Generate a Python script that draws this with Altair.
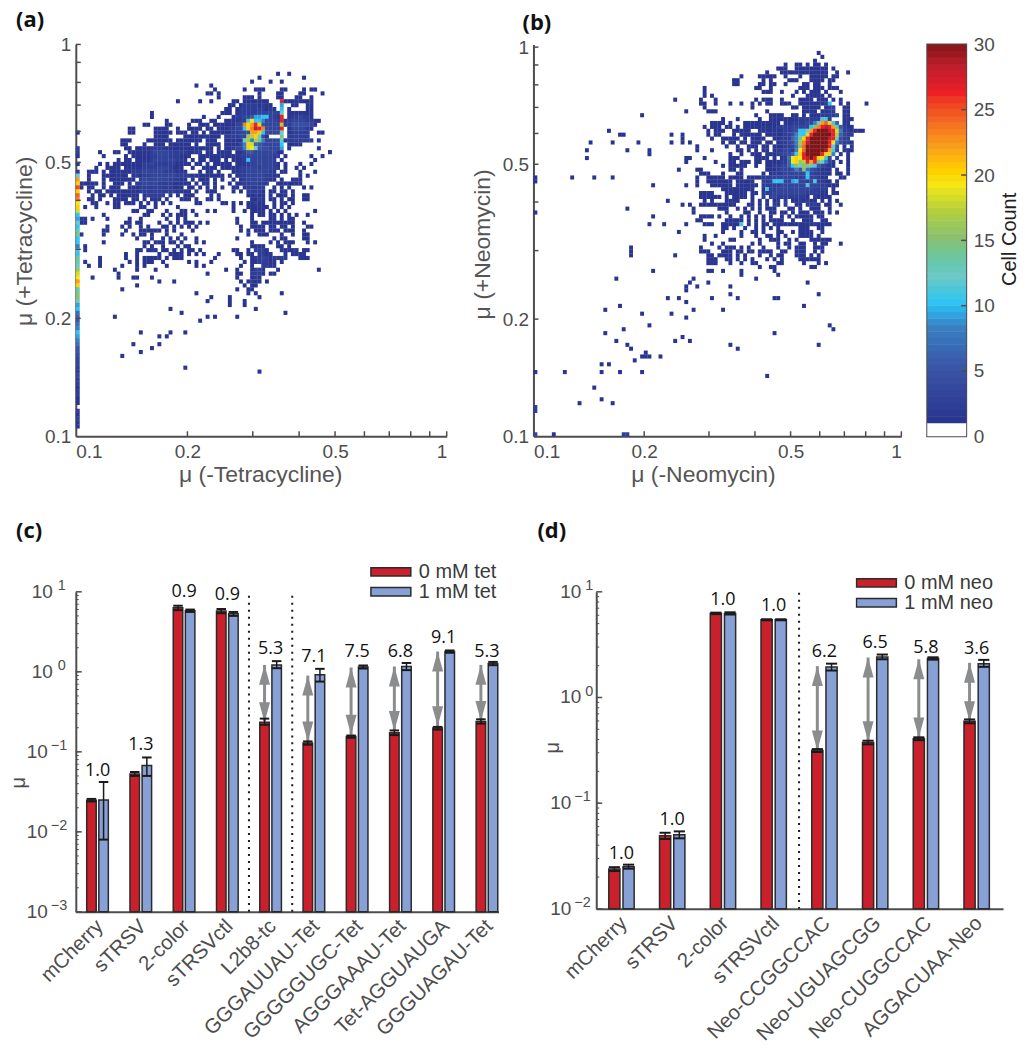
import json
import altair as alt
import pandas as pd

# ---------- heat-map cells: (row from the top, first column, counts in base 36) ----------
A_ROWS = [
(7,50,"....1..1"),(8,40,".........1 .......... .1"),(9,40,".......1.. ..1..1"),(10,30,"..1...1"),
(11,30,".......1.. .....1..11 1....11... .1.11"),(12,30,".....11.1. .........1 ....11.... 11....1"),
(13,30,"........1. .....111.1 ....11...1 1..1"),(14,20,".......1.. ...1..1... ..11.11111 11...q1111 1111"),
(15,40,".11.122221 211..9..11 ..11"),(16,40,"11.1222222 2121.a.1.. ..11"),
(17,20,"1......... .........1 11.1222223 33332c.111 1111"),(18,20,"1......... ....1...1. ..12233599 aa321q.122 3221"),
(19,20,"....1..... .111..11.. 111122bjaa 83332q1233 332211"),(20,10,"........11 ....11.... 1..111.111 11133nkmqk 53333h2244 44431"),
(21,10,"....11.... .1111..1.. 1111.11.11 12233aknsq n4333q.133 3321"),(22,10,"....11.... .11111.111 .11.1.1111 1122334mmk a4333c.122 222..11"),
(23,20,".1111....1 111111111. 222233ghkc 41...e.222 222"),(24,10,"..111....1 111111.111 1111.111.. 11111cg8he 83333c1222 2222.1"),
(25,10,"..11....1. .111.11111 1.1..1111. 111138ki65 43333a.111 1"),(26,10,"...11.1111 2222111111 1111111.1. 112338ijc5 443339.1.. .....1.."),
(27,0,"......1... 11..111111 2333322222 1112.11.11 11.1125533 333311.... ........1"),(28,0,".......1.. ...1.11111 2233322211 1..1111111 1111223333 33322.1... ...1..1"),
(29,10,".1.11.1111 2333333221 .1.11.111. 1.1112a333 3332.1.... ....1"),(30,0,"......1.1. 1111111122 3222222111 1.11.1.111 11.1112333 33321.1... 1..1"),
(31,0,".....1..11 11.1111122 223332111. .1..1111.1 1111223332 33321.1..1 .1"),(32,0,"...111.1.1 1111122233 3333222111 ...1.11.1. ..11223333 3321.11... 1...1"),
(33,0,"...1...111 1111.12122 3333333222 2111111111 .1.1223333 32211..... 1.1"),(34,0,"...1...1.1 111111.233 3333322211 .1.111.1.1 ..1.123333 3211.1..11 1"),
(35,0,".11111.1.. 111.1.2233 3322221111 1.1.11.1.. .1.1122332 22..111111 1"),(36,0,".1.11..1.1 11..111222 222222111. 11.1.1.1.1 ..11.12222 2..1.1.1.. .1.1"),
(37,0,"...1.11.11 1111111222 2222222111 1.1..111.. ..1.1.2222 1.11.11.1."),(38,0,"....1.11.1 .111111.12 2222.1.1.1 11....1.1. ......1121 1.1.111.1. .11"),
(39,0,"...11.1... 1111.11.1. 111.1...11 1.1..11.1. .......112 1.11.1.11. .11"),(40,0,"....11..1. 11.111.1.1 .1.1.1.... ..11.....1 1.1.1.1121 1..1.11.1."),
(41,0,"..1..1.... 11.....11. .1.....1.. .......... ..1...1111 11.1.1.1"),(42,10,".....11..1 1...1...11 .1...1.1.. ..1..1.111 1.1.1.1... ....1"),
(43,0,".......1.. ........11 ...1.1.111 ..1....... .......1.1 1.11.1.1.1 ..1"),(44,0,".11.1...1. ....1..1.. ....1..1.1 .......... ...1...1.. ..11.1.11"),
(45,0,".11....... ...11.11.. ..1..1.1.1 11.1.1.... ...1...11. 111111111. .1"),(46,0,"........1. ..1.1..1.1 ...11.1.1. 1.1....... ....1..111 1.11.11.1. ..11"),
(47,0,".......11. ...1...111 111.1.1... .1........ ....1.1.11 1.111.111. .1"),(48,0,".1.....1.. ..1..1.11. 1...1...1. .......... ......1..1 11...1..1. .11"),
(49,10,"......1... 1..1.1.1.1 ..1....... ...1...... ...1.11... .11"),(50,0,".......1.. ........11 .111.11.1. ..1.1..... .......1.. ..1.1.111. ..1.1"),
(51,0,"..1....... ........1. 1..1...1.1 1......... .......111 1...11.1"),(52,0,"..1....... ......11.1 11.11.1.1. 11.1...... ..11..1.22 21...11111 .11"),
(53,10,"...1..1... ..1..1111. 1.1.1...1. ...11.11.2 211...1.11 11"),(54,0,"......1... ...1..1.11 111.1.111. .......1.. ....1..122 3212222... 111"),
(55,0,"..1...1... ....1.1.11 1..1...... 1.1...1... .....1.112 2211.1"),(56,0,"...1..1... ..1...1.1. ....1..... ..1.1..... ....1..1.. 2211"),
(57,10,"1.....1... .1........ .......... 1..1...122 1...1..... .....1"),(58,10,".1........ .......... .....1.... ...11..222 1.11"),
(59,0,"....1..... .1...11... 1......... .......... ...1...121"),(60,20,"..1...1... .......... ....1.1211 .1"),
(61,10,"......1... .......... .......... .....1.11"),(62,10,"..1....... .......... .......... ...1..11"),
(63,30,"..1....... ......1.1. .....1"),(64,30,"......1... .1.......1"),(65,30,".....1.... .1...1"),(66,40,".1...1"),
(67,20,".....1.... .......... ........1"),(68,20,"........1. .......... .......... ......1"),(69,10,"1......... .......... .....1.1.. ...1"),
(70,30,"...1"),(73,10,".......1.. .....1...1"),(74,20,"..1.1"),(76,10,".....1.... ..1"),(77,20,"1"),(78,10,".......1"),(79,10,"..1"),
(82,20,".........1"),(83,40,".........1"),
]
# column at the very left edge of panel (a), from row 22 downwards
A_EDGE = [1,0,0,0,2,2,1,0,1,0,2,12,22,20,25,20,24,23,19,20,18,10,9,12,10,13,14,10,10,8,11,10,14,13,12,16,18,19,22,20,13,14,15,12,9,10,7,6,5,7,8,10,9,8,7,5,5,4,3,3,2,2,3,2,2,1,2,2,1,1,0,2,1,2,1,1,0,0]

B_ROWS = [
(1,70,".......1"),(2,70,"........1"),(3,70,"......1"),(4,60,"........1. .11.1.11.1"),(5,60,"......111. .111111111 .1"),
(6,60,"...1...111 1111111111 ..1..1"),(7,50,"......1... .11111..1. ..1..11111 .11"),(8,50,"....11.... ..1.1....1 11...1111. 11"),
(9,50,"....11.... .11.11..1. ...11.11.. 1"),(10,40,"......1... .......... 11..1..... ..111.111. 111"),(11,40,"......1... .......... ..111..1.. .1.1.111.1 ...1"),
(12,40,"......1.1. .......... .......... 1...11111. 1"),(13,30,"........1. .....1...1 .......... 1.111..1.. ..1111.111 .1.1"),
(14,40,".....11..1 ...1..1..1 .1.11..111 ..11111112 a..1.1.... 1"),(15,40,"......1... .........1 .......... 11.11111.1 22..11"),
(16,40,".1.....111 .......... ...1...... ...1111.11 22..11"),(17,20,".........1 .......... .......... .......... 1...1111.. 11.1.11122 223.11"),
(18,50,".1...1.... .1..111111 11222222bb 2...111"),(19,40,"........11 11.1...111 1111111.11 2222338cmo ib6.11"),
(20,40,"......1.11 1.11.1.111 1111112222 33333afnqs qmd5211"),(21,20,"1"),(21,40,".......1.1 11..11111. .111111122 34aacmquuu sqi8221111"),
(22,20,"...11"),(22,30,".......1.. 1......1.1 1...1.1111 11.1111122 48baiquuuu uqh6322"),(23,40,"1.......1. .11111.1.1 111..11222 68ekquuuuu sqc422"),
(24,10,".....1.... .1......1. .......1.. 1.1....... .1.11.11.1 11.11.1223 48gnsuuuuu qj84221"),(25,40,"....1..... ..1..1..11 1.11.11122 37fouuuuuu qc4.1.1"),
(26,10,"....1..... .....1.... .1........ ....1...1. .....11.1. 1.11.12233 28jouuuuut mb3.111"),(27,30,".1........ .......... ...1..1..1 11.1112334 6bkquuuuqk i8.1.1"),
(28,10,"....1....."),(28,40,".11...1... ...111.... 1111.1.127 jkjqsurkjb 3.2..1"),(29,40,".1.......1 ...11.111. 11.1111226 jkghqmqec8 31.1.1"),
(30,50,".1.11111.. 1..1122336 afcfedb532 11...1"),(31,30,".........1 ....11.... ...11.1... ...1112333 485f743211 1.1..1"),
(32,40,".....111.. .1...11... ..1.122233 3333a32211 1.11.1"),(33,0,"1......... 1.....1... .1........ .......... ....1..111 11.1111.11 1122233333 3223a33211 ...11"),
(34,0,"1"),(34,40,"....1..111 1111.11111 ..223aaa33 9a3323b221 1.1"),(35,30,"..1....... .1..1...11 1111.11111 1.22222333 3333b33322 111"),
(36,50,".111111111 ..1b223333 3333332222 .1"),(37,40,".....1111. ..111111.1 1.22233333 3333222211 .11"),(38,40,".....11111 1.1.1111.1 ..2.232222 22221.2111 1"),
(39,30,"......1... ......1.1. ..1111...1 .1.1.12.2. 1121211.1. 1.1"),(40,40,"1.1..11111 11111...11 .1.1.22.2. .11.2221.1 1..1"),
(41,20,".....1.... .......... ...1...... 111..1.1.1 .1.111...1 1.1..111.. 1"),(42,0,"1"),(42,40,"...1...... ..1....11. .1..11.11. 1.111.111. 1.1"),
(43,30,"..1....... .....1111. 1..1..1.1. 1.1.1..1.1 .11111.11"),(44,40,"....11.... ..11111.1. 1.1.1111.. 1..111..11"),
(45,30,".1...1.... .1....111. .11111b.1. 1.11.11111 1111112111 1"),(46,50,".11.1..1.. 1.1.1.1... ..111..11"),(47,30,".........1 .......... .1....1..1 1.1...11.. 1.1111..1"),
(48,40,"......1..1 ......1... 1..11.1.1. ..1111.1"),(49,40,"......1... ...11..... .1..111..1 .1...11111 1"),(50,40,"........1. .1.......1 .1....1.11 ..11..1.11 ...1"),
(51,20,"......1... .......... .....1.... 1.111.1.1. ..1...1..1 .111..111"),(52,20,"......1... .......... .....111.. .111.11.11 .1111..11. .111..1.1"),
(53,20,"......1... ........1. .......11. 1111.1.1.. .1..1.11.. .111.1.1"),(54,40,".......111 ..11.1.1.1 ...1.1.1.. ..111111"),(55,40,".......111 ...1..1..1 1.....11.. ...1...1.1"),
(56,60,".1..11.... .....11"),(57,30,"..1....... .......11. .1....1... .....1"),(58,50,"......1... ......1"),(59,20,"..1....... .......... ...1...... .......... 1"),
(60,40,"..1....1.. .......... .......... ....1"),(61,40,".1..1..... ...1"),(62,40,".1"),(63,50,"...1...... .......... .......1"),
(64,30,"......1..1 ........1. .....1.... .....11"),(65,40,".1"),(66,20,"...1"),(66,70,"...1"),(67,10,".........1 .......... .......... ...1...... .1"),
(68,20,".........1 .......1"),(69,40,".1"),(71,30,".1"),(71,80,"1"),(72,20,"....1"),(72,80,".1"),(73,10,".........1"),(73,60,".....1"),(74,40,"1"),
(75,20,"..1....... ........1. ..1"),(76,20,".....1"),(76,50,"...1...... .......... .......1"),(77,20,"......1"),(77,50,".....1"),(78,30,"1"),
(79,20,".........1 11..1"),(80,20,".......1"),(81,10,"........1. 1"),(83,0,"1.......1. ........1. ...1.....1"),(84,60,"...1"),(87,10,"......1"),
(90,10,"........1"),(91,10,"..1....... .1"),(92,0,"2"),(93,0,"2"),(99,0,"3....1"),(99,20,"....22"),
]

# ---------- bar panels ----------
C_NAMES = ["mCherry","sTRSV","2-color","sTRSVctl","L2b8-tc","GGGAUUAU-Tet","GGGGGUGC-Tet","AGGGAAAU-Tet","Tet-AGGUAUGA","GGGUAGAU-Tet"]
C_RED = [.0249,.053,6.3,5.74,.235,.129,.155,.173,.198,.24]
C_RED_HI = [.0258,.056,6.7,6.1,.26,.135,.16,.185,.205,.255]
C_RED_LO = [.024,.05,5.9,5.4,.218,.123,.15,.162,.19,.225]
C_BLUE = [.025,.0673,5.8,5.3,1.22,.916,1.15,1.165,1.79,1.27]
C_BLUE_HI = [.042,.085,6.0,5.6,1.36,1.09,1.2,1.29,1.85,1.33]
C_BLUE_LO = [.008,.05,5.6,5.0,1.11,.755,1.1,1.05,1.73,1.21]
C_RATIO = ["1.0","1.3","0.9","0.9","5.3","7.1","7.5","6.8","9.1","5.3"]
C_RATIO_Y = [.0571,.1205,9.8,9.1,1.93,1.52,1.75,1.75,2.67,1.79]
C_ARROW_GROUP = [4,5,6,7,8,9]
C_ARROW_TOP = [1.22,.897,1.13,1.165,1.79,1.22]
C_ARROW_BOT = [.235,.135,.164,.183,.209,.244]
C_DOTS = [3.5,4.5]

D_NAMES = ["mCherry","sTRSV","2-color","sTRSVctl","Neo-CCGGCCAC","Neo-UGUAGCGG","Neo-CUGGCCAC","AGGACUAA-Neo"]
D_RED = [.0238,.0491,6.25,5.44,.315,.375,.406,.596]
D_RED_HI = [.0248,.0525,6.35,5.5,.325,.39,.42,.62]
D_RED_LO = [.0228,.0458,6.15,5.38,.305,.36,.395,.57]
D_BLUE = [.0251,.0503,6.25,5.44,1.94,2.42,2.34,2.09]
D_BLUE_HI = [.0262,.0541,6.4,5.5,2.09,2.55,2.4,2.27]
D_BLUE_LO = [.024,.0465,6.1,5.38,1.8,2.3,2.28,1.95]
D_RATIO = ["1.0","1.0","1.0","1.0","6.2","6.5","5.8","3.6"]
D_RATIO_Y = [.033,.0695,8.35,7.33,2.68,3.26,2.96,2.88]
D_ARROW_GROUP = [4,5,6,7]
D_ARROW_TOP = [1.98,2.39,2.3,2.13]
D_ARROW_BOT = [.315,.386,.418,.596]
D_DOTS = [3.5]

# ---------- style ----------
GRAY = "#4d4d4d"
LAB = "Liberation Sans"
NUM = "Open Sans"
RED, BLUE, EDGE = "#c9202b", "#87a1d6", "#2b2b2b"
ARROW = "#8a8c8e"
CMAP_D = [0,.99,1,5,8,10,12,15,17,19,20,22,24,26,28,30]
CMAP_R = ["#ffffff","#ffffff","#2a3590","#3b55a5","#3b7fc1","#2fc4f3","#6ec8c5","#8dc06e","#b5cf3b","#f5e614","#fdd200","#f99d1c","#f26522","#ed2024","#bf1e2d","#7d1416"]
CS = alt.Scale(domain=CMAP_D, range=CMAP_R, clamp=True)
LEFT_BOUND = -72


def letter_title(text, dx, offset):
    return alt.TitleParams(text, anchor="start", frame="group", font=NUM, fontWeight="bold", fontSize=22, color="#111111", dx=dx, offset=offset)


def cells(rows, edge=None, edge_start=0):
    out = []
    for r, start, pat in rows:
        p = pat.replace(" ", "")
        for i, ch in enumerate(p):
            if ch != ".":
                out.append((r, start + i, int(ch, 36)))
    if edge:
        out = [o for o in out if o[1] != 0]
        out += [(edge_start + i, 0, v) for i, v in enumerate(edge) if v]
    df = pd.DataFrame(out, columns=["r", "c", "count"])
    df["x0"] = 10 ** (-1 + df.c / 100)
    df["x1"] = 10 ** (-1 + (df.c + 1.06) / 100)
    df["y1"] = 10 ** (-(df.r - .03) / 100)
    df["y0"] = 10 ** (-(df.r + 1.03) / 100)
    return df


def heat(df, xtitle, ytitle, letter, letter_dx, w, h, ymax, xtx, xty, ytx, yty, anchor):
    xs = alt.Scale(type="log", domain=[0.1, 1], nice=False)
    ys = alt.Scale(type="log", domain=[0.1, ymax], nice=False)
    common = dict(domainColor=GRAY, domainWidth=2, ticks=False, grid=False, labelFont=LAB, labelFontSize=19,
                  labelColor=GRAY, format="~g", labelOverlap=False, titleFont=LAB, titleFontSize=23,
                  titleFontWeight="normal", titleColor="#555555", titleBaseline="middle")
    xax = alt.Axis(values=[.1, .2, .5, 1], title=xtitle, labelPadding=6, titleX=xtx, titleY=xty, **common)
    yax = alt.Axis(values=[.1, .2, .5, 1], title=ytitle, labelPadding=5, titleX=ytx, titleY=yty, **common)
    rect = alt.Chart(df).mark_rect(strokeWidth=0).encode(
        x=alt.X("x0:Q", scale=xs, axis=xax),
        x2="x1:Q",
        y=alt.Y("y0:Q", scale=ys, axis=yax),
        y2="y1:Q",
        color=alt.Color("count:Q", scale=CS, legend=None),
    )
    tk = pd.DataFrame({"v": [.2, .3, .4, .5, .6, .7, .8, .9, 1]})
    xt = alt.Chart(tk).mark_rule(color=GRAY, strokeWidth=1.5).encode(
        x=alt.X("v:Q", scale=xs, axis=xax), y=alt.value(h), y2=alt.value(h - 5))
    yt = alt.Chart(tk).mark_rule(color=GRAY, strokeWidth=1.5).encode(
        y=alt.Y("v:Q", scale=ys, axis=yax), x=alt.value(0), x2=alt.value(5))
    layers = [rect, xt, yt]
    if anchor:
        layers.append(alt.Chart(tk.head(1)).mark_rule(opacity=0).encode(
            y=alt.Y("v:Q", scale=ys, axis=yax), x=alt.value(LEFT_BOUND), x2=alt.value(LEFT_BOUND + 1)))
    return alt.layer(*layers).properties(width=w, height=h, title=letter_title(letter, letter_dx, 3))


def colorbar():
    levels = [i / 2 for i in range(60)]
    df = pd.DataFrame({"lv": levels, "lv2": [v + .54 if v < 29.5 else 30 for v in levels]})
    ys = alt.Scale(domain=[0, 30], nice=False)
    yax = alt.Axis(orient="right", values=[0, 5, 10, 15, 20, 25, 30], ticks=False, domain=False, grid=False,
                   labelFont=LAB, labelFontSize=19, labelColor=GRAY, labelPadding=7,
                   title="Cell Count", titleFont=LAB, titleFontSize=20, titleFontWeight="normal",
                   titleColor="#222222", titleAngle=270, titleBaseline="middle", titleX=43, titleY=195)
    rect = alt.Chart(df).mark_rect(strokeWidth=0).encode(
        y=alt.Y("lv:Q", scale=ys, axis=yax),
        y2="lv2:Q",
        x=alt.value(0), x2=alt.value(39),
        color=alt.Color("lv:Q", scale=CS, legend=None),
    )
    tk = pd.DataFrame({"v": [5, 10, 15, 20, 25]})
    ticks = alt.Chart(tk).mark_rule(color=GRAY, strokeWidth=1.5).encode(
        y=alt.Y("v:Q", scale=ys, axis=yax), x=alt.value(34), x2=alt.value(39))
    return alt.layer(rect, ticks).properties(width=39, height=393, view=alt.ViewConfig(stroke=GRAY, strokeWidth=2))


def barpanel(names, red, rhi, rlo, blue, bhi, blo, ratio, ratio_y, ag, at, ab, dots, letter, series, ymin, w, h,
             xdom, legx, legy, pos_r, pos_e, neg_r, neg_e, ty_x, ty_y, title_dx, title_off, dot_top, anchor):
    rows = []
    for i in range(len(names)):
        rows.append(dict(i=i, s=series[0], x0=i - .25, x1=i - .03, c=i - .14, v=red[i], hi=rhi[i], lo=rlo[i]))
        rows.append(dict(i=i, s=series[1], x0=i + .03, x1=i + .25, c=i + .14, v=blue[i], hi=bhi[i], lo=blo[i]))
    df = pd.DataFrame(rows)
    df["base"] = ymin
    df["cl"] = df.c - .11
    df["cr"] = df.c + .11
    xs = alt.Scale(domain=xdom, nice=False, zero=False)
    ys = alt.Scale(type="log", domain=[ymin, 10], nice=False)
    xax = alt.Axis(
        values=list(range(len(names))), labelExpr=json.dumps(names) + "[datum.value]", labelAngle=-45, labelAlign="right",
        labelBaseline="middle", labelFont=LAB, labelFontSize=20.5, labelColor=GRAY, labelPadding=11, labelOffset=2, labelOverlap=False,
        ticks=False, grid=False, domainColor=GRAY, domainWidth=2, title=None, labelBound=False, labelFlush=False)
    yax = alt.Axis(
        labels=False, ticks=False, grid=False, domainColor=GRAY, domainWidth=2, title="μ", titleFont=LAB, titleFontSize=20,
        titleFontWeight="normal", titleColor=GRAY, titleX=ty_x, titleY=ty_y, titleBaseline="middle")
    X = lambda f: alt.X(f, scale=xs, axis=xax)
    Y = lambda f: alt.Y(f, scale=ys, axis=yax)
    bars = alt.Chart(df).mark_rect(stroke=EDGE, strokeWidth=1.5).encode(
        x=X("x0:Q"), x2="x1:Q", y=Y("v:Q"), y2="base:Q",
        color=alt.Color("s:N", scale=alt.Scale(domain=series, range=[RED, BLUE]), legend=alt.Legend(
            orient="none", legendX=legx, legendY=legy, title=None, symbolType="M-1,-0.21H1V0.21H-1Z", symbolSize=1600,
            symbolStrokeColor=EDGE, symbolStrokeWidth=1.5, labelFont=LAB, labelFontSize=20, labelColor="#3a3a3a",
            clipHeight=18, rowPadding=0, labelOffset=7, padding=0)),
    )
    err = alt.Chart(df).mark_rule(color="#1a1a1a", strokeWidth=1.5).encode(x=X("c:Q"), y=Y("lo:Q"), y2="hi:Q")
    cap_hi = alt.Chart(df).mark_rule(color="#1a1a1a", strokeWidth=2).encode(x=X("cl:Q"), x2="cr:Q", y=Y("hi:Q"))
    cap_lo = alt.Chart(df).mark_rule(color="#1a1a1a", strokeWidth=2).encode(x=X("cl:Q"), x2="cr:Q", y=Y("lo:Q"))
    adf = pd.DataFrame({"c": [g - .14 for g in ag], "top": at, "bot": ab})
    shaft = alt.Chart(adf).mark_rule(color=ARROW, strokeWidth=3).encode(x=X("c:Q"), y=Y("bot:Q"), y2="top:Q")
    up = alt.Chart(adf).mark_point(shape="M0,0L0.55,2L-0.55,2Z", filled=True, size=400, color=ARROW, opacity=1).encode(x=X("c:Q"), y=Y("top:Q"))
    down = alt.Chart(adf).mark_point(shape="M0,0L0.55,-2L-0.55,-2Z", filled=True, size=400, color=ARROW, opacity=1).encode(x=X("c:Q"), y=Y("bot:Q"))
    tdf = pd.DataFrame({"x": list(range(len(names))), "y": ratio_y, "t": ratio})
    txt = alt.Chart(tdf).mark_text(font=NUM, fontSize=18, color="#111111", baseline="middle").encode(x=X("x:Q"), y=Y("y:Q"), text="t:N")
    ddf = pd.DataFrame({"x": dots, "a": [ymin] * len(dots), "b": [dot_top] * len(dots)})
    dot = alt.Chart(ddf).mark_rule(color="#1a1a1a", strokeWidth=2, strokeDash=[2, 5]).encode(x=X("x:Q"), y=Y("a:Q"), y2="b:Q")
    # inward log ticks
    tick_vals = []
    v = ymin
    while v < 9.99:
        tick_vals += [v * k for k in range(1, 10)]
        v *= 10
    minor = pd.DataFrame({"v": tick_vals})
    major = pd.DataFrame({"v": [t for t in [1e-3, 1e-2, 1e-1, 1, 10] if t >= ymin]})
    tmin = alt.Chart(minor).mark_rule(color=GRAY, strokeWidth=1).encode(y=Y("v:Q"), x=alt.value(0), x2=alt.value(3))
    tmaj = alt.Chart(major).mark_rule(color=GRAY, strokeWidth=1.5).encode(y=Y("v:Q"), x=alt.value(0), x2=alt.value(6))
    # power-of-ten labels
    major["e"] = [{1e-3: "−3", 1e-2: "−2", 1e-1: "−1", 1: "0", 10: "1"}[t] for t in major.v]
    pos = major[major.v >= 1]
    neg = major[major.v < 1]
    layers = []
    for part, rx, ex in ((pos, pos_r, pos_e), (neg, neg_r, neg_e)):
        layers.append(alt.Chart(part).mark_text(font=LAB, fontSize=19, color=GRAY, align="right", baseline="middle").encode(
            y=Y("v:Q"), x=alt.value(rx), text=alt.value("10")))
        layers.append(alt.Chart(part).mark_text(font=LAB, fontSize=14.5, color=GRAY, align="left", baseline="middle", dy=-6).encode(
            y=Y("v:Q"), x=alt.value(ex), text="e:N"))
    if anchor:
        layers.append(alt.Chart(major.head(1)).mark_rule(opacity=0).encode(
            y=Y("v:Q"), x=alt.value(LEFT_BOUND), x2=alt.value(LEFT_BOUND + 1)))
    return alt.layer(bars, dot, shaft, up, down, err, cap_hi, cap_lo, txt, tmin, tmaj, *layers).properties(
        width=w, height=h, title=letter_title(letter, title_dx, title_off))


a = heat(cells(A_ROWS, A_EDGE, 22), "μ (-Tetracycline)", "μ (+Tetracycline)", "(a)", -60, 372, 393, 1, 185, 38, -51, 197, True)
b = heat(cells(B_ROWS), "μ (-Neomycin)", "μ (+Neomycin)", "(b)", -11, 369, 393, 1.0161, 170, 38, -51, 200, False)
cb = colorbar()
c = barpanel(C_NAMES, C_RED, C_RED_HI, C_RED_LO, C_BLUE, C_BLUE_HI, C_BLUE_LO, C_RATIO, C_RATIO_Y, C_ARROW_GROUP, C_ARROW_TOP, C_ARROW_BOT,
             C_DOTS, "(c)", ["0 mM tet", "1 mM tet"], 1e-3, 424, 321, [-.502, 9.268], 295, -29, -23, -18, -28, -25, -57, 191, -60, 20, 9.5, True)
d = barpanel(D_NAMES, D_RED, D_RED_HI, D_RED_LO, D_BLUE, D_BLUE_HI, D_BLUE_LO, D_RATIO, D_RATIO_Y, D_ARROW_GROUP, D_ARROW_TOP, D_ARROW_BOT,
             D_DOTS, "(d)", ["0 mM neo", "1 mM neo"], 1e-2, 408, 318, [-.497, 7.52], 260, -18, -15, -11, -25, -22, -44, 156, -59, 31, 10, False)

top = alt.hconcat(a, b, cb, spacing=24).resolve_scale(color="independent")
bottom = alt.hconcat(c, d, spacing=37).resolve_scale(color="independent").resolve_legend(color="independent")
chart = alt.vconcat(top, bottom, spacing=34).resolve_scale(color="independent").resolve_legend(color="independent").properties(
    padding={"left": -4, "top": 0, "right": 0, "bottom": 0}
).configure_view(stroke=None)

chart.save("out.html", embed_options={"renderer": "svg", "actions": False})
